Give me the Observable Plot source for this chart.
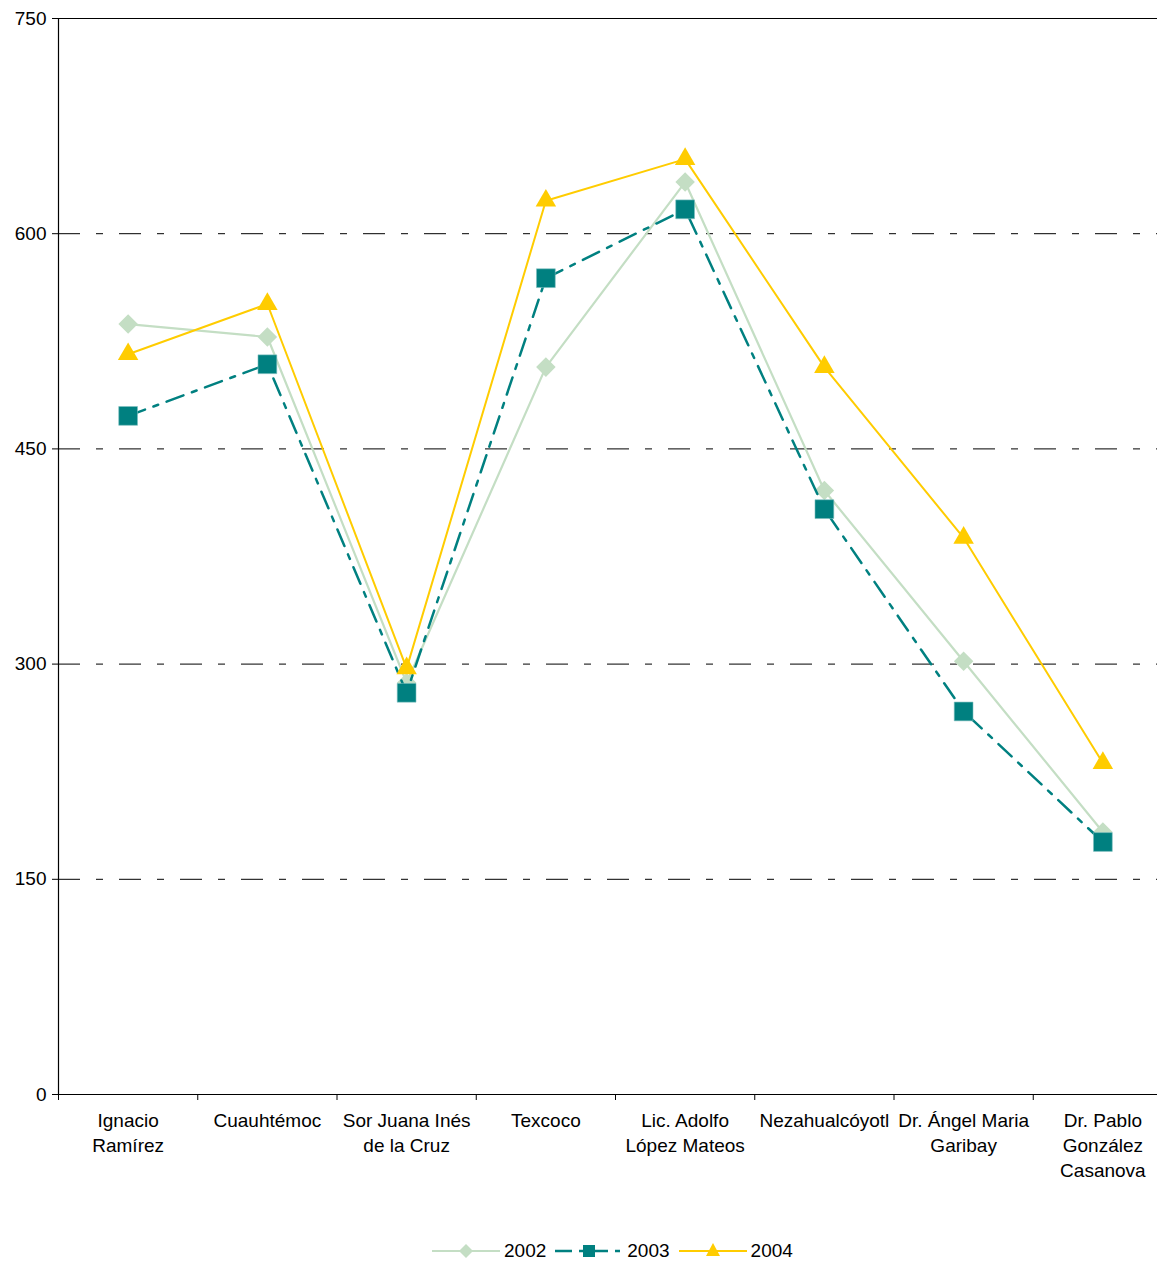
<!DOCTYPE html>
<html>
<head>
<meta charset="utf-8">
<script src="https://cdn.jsdelivr.net/npm/d3@7"></script>
<script src="https://cdn.jsdelivr.net/npm/@observablehq/plot@0.6"></script>
<style>
  html, body { margin: 0; padding: 0; background: #fff; }
  body { width: 1157px; height: 1263px; position: relative; overflow: hidden; font-family: "Liberation Sans", Arial, sans-serif; }
  #legend { position: absolute; left: 432px; top: 1239px; display: flex; align-items: center; font-size: 19px; color: #000; height: 24px; }
  #legend .item { display: flex; align-items: center; }
  #legend svg { display: block; }
  #legend span { margin: 0 9px 0 4px; }
</style>
</head>
<body>
<div id="chart"></div>
<div id="legend"></div>
<script>
const categories = ["Ignacio\nRamírez", "Cuauhtémoc", "Sor Juana Inés\nde la Cruz", "Texcoco", "Lic. Adolfo\nLópez Mateos", "Nezahualcóyotl", "Dr. Ángel Maria\nGaribay", "Dr. Pablo\nGonzález\nCasanova"];
const years = ["2002", "2003", "2004"];
const values2002 = [537, 528, 287, 507, 636, 421, 302, 183];
const values2003 = [473, 509, 280, 569, 617, 408, 267, 176];
const values2004 = [516, 551, 297, 623, 652, 507, 388, 231];
const yTicks = [0, 150, 300, 450, 600, 750];
const gridTicks = [150, 300, 450, 600];

const colors = {"2002": "#C4DEC4", "2003": "#008080", "2004": "#FFCC00"};
const seriesValues = {"2002": values2002, "2003": values2003, "2004": values2004};

const rows = years.flatMap(yr => seriesValues[yr].map((v, i) => ({year: yr, idx: i + 0.5, value: v})));
const byYear = yr => rows.filter(r => r.year === yr);

const lineMark = (yr, opts) => Plot.line(byYear(yr), {x: "idx", y: "value", stroke: colors[yr], ...opts});

const chart = Plot.plot({
  width: 1157,
  height: 1215,
  marginLeft: 58,
  marginRight: 0,
  marginTop: 18,
  marginBottom: 121,
  style: {fontFamily: "'Liberation Sans', Arial, sans-serif", fontSize: "19px", color: "#000", background: "#fff"},
  x: {type: "linear", domain: [0, 8], range: [58, 1172]},
  y: {domain: [0, 750], range: [1094, 18]},
  marks: [
    Plot.ruleY(gridTicks, {stroke: "#000", strokeWidth: 1, strokeDasharray: "22 16 7 16"}),
    Plot.ruleY([750], {stroke: "#000", strokeWidth: 1.2}),
    Plot.ruleY([0], {stroke: "#000", strokeWidth: 1.2}),
    Plot.ruleX([0], {stroke: "#000", strokeWidth: 1.2}),
    Plot.axisY({ticks: yTicks, tickSize: 6, tickPadding: 6, tickFormat: d => String(d), fontSize: 19, label: null}),
    Plot.axisX({ticks: d3.range(0, 9), tickSize: 6, tickFormat: () => "", label: null}),
    Plot.text(categories, {x: (d, i) => i + 0.5, y: () => 0, text: d => d, lineAnchor: "top", dy: 15, lineHeight: 1.32, fontSize: 19, fill: "#000"}),
    lineMark("2002", {strokeWidth: 2.2}),
    Plot.dot(byYear("2002"), {x: "idx", y: "value", symbol: "diamond2", r: 8.8, fill: colors["2002"], stroke: "none"}),
    lineMark("2003", {strokeWidth: 2.5, strokeDasharray: "18 9 5 9"}),
    Plot.dot(byYear("2003"), {x: "idx", y: "value", symbol: "square", r: 10.6, fill: colors["2003"], stroke: "#7fbfbf", strokeWidth: 0.6}),
    lineMark("2004", {strokeWidth: 2}),
    Plot.dot(byYear("2004"), {x: "idx", y: "value", symbol: "triangle", r: 7.6, fill: colors["2004"], stroke: "none"})
  ]
});
document.getElementById("chart").appendChild(chart);

// legend
const legend = document.getElementById("legend");
const swatch = (yr) => {
  const c = colors[yr];
  let line, marker;
  if (yr === "2002") {
    line = `<line x1="0" y1="12" x2="68" y2="12" stroke="${c}" stroke-width="2"/>`;
    marker = `<path d="M34 5 L41 12 L34 19 L27 12 Z" fill="${c}"/>`;
  } else if (yr === "2003") {
    line = `<line x1="0" y1="12" x2="68" y2="12" stroke="${c}" stroke-width="2.4" stroke-dasharray="17 7 5 7"/>`;
    marker = `<rect x="28" y="6" width="12" height="12" fill="${c}"/>`;
  } else {
    line = `<line x1="0" y1="12" x2="68" y2="12" stroke="${c}" stroke-width="2"/>`;
    marker = `<path d="M34 4 L41 17 L27 17 Z" fill="${c}"/>`;
  }
  return `<svg width="68" height="24">${line}${marker}</svg>`;
};
legend.innerHTML = years.map(yr => `<div class="item">${swatch(yr)}<span>${yr}</span></div>`).join("");
</script>
</body>
</html>
